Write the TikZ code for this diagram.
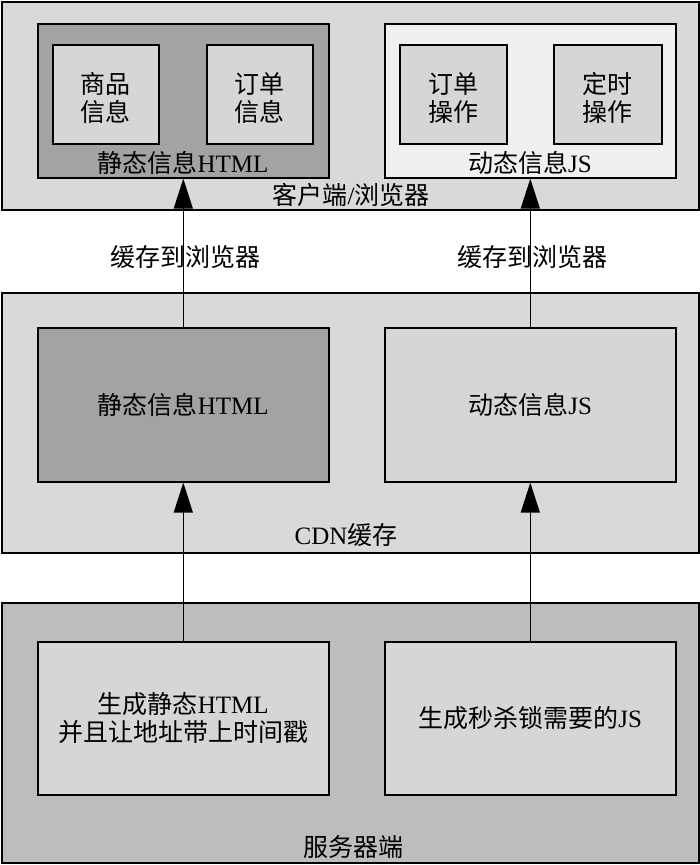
\documentclass[tikz,border=0pt]{standalone}
\usepackage{fontspec}
\setmainfont{Liberation Serif}
\newfontfamily\cjk{Noto Sans CJK SC}
\usetikzlibrary{arrows.meta}
\definecolor{outerL}{HTML}{D9D9D9}
\definecolor{outerD}{HTML}{BDBDBD}
\definecolor{darkbox}{HTML}{A3A3A3}
\definecolor{lightbox}{HTML}{F0F0F0}
\definecolor{midbox}{HTML}{D6D6D6}
\begin{document}
\begin{tikzpicture}[x=1pt,y=-1pt,
  box/.style={draw=black, line width=1.6pt, inner sep=0pt, anchor=north west, align=center,
    font=\fontsize{25}{28}\selectfont},
  lbl/.style={inner sep=0pt, align=center, font=\fontsize{25}{28}\selectfont},
  conn/.style={line width=1.3pt, -{Triangle[length=30pt,width=19pt]}}
]
\useasboundingbox[fill=white] (0,0) rectangle (700,865);
% client layer
\node[box, fill=outerL, minimum width=697pt, minimum height=208pt] (client) at (1,1) {};
\node[box, fill=darkbox, minimum width=291pt, minimum height=154pt] (cstat) at (37,23) {};
\node[box, fill=lightbox, minimum width=291pt, minimum height=154pt] (cdyn) at (384,23) {};
\node[box, fill=midbox, minimum width=106pt, minimum height=99pt] (goods) at (52,44) {};
\node[box, fill=midbox, minimum width=106pt, minimum height=99pt] (order) at (206,44) {};
\node[box, fill=midbox, minimum width=107pt, minimum height=99pt] (orderop) at (399,44) {};
\node[box, fill=midbox, minimum width=108pt, minimum height=99pt] (timer) at (553,44) {};
\node[lbl] (goodslbl) at (105,98) {{\cjk 商品}\\{\cjk 信息}};
\node[lbl] (orderlbl) at (259,98) {{\cjk 订单}\\{\cjk 信息}};
\node[lbl] (orderoplbl) at (453,98) {{\cjk 订单}\\{\cjk 操作}};
\node[lbl] (timerlbl) at (607,98) {{\cjk 定时}\\{\cjk 操作}};
\node[lbl] (cstatlbl) at (183,163) {{\cjk 静态信息}HTML};
\node[lbl] (cdynlbl) at (530,163) {{\cjk 动态信息}JS};
\node[lbl] (clientlbl) at (351,195) {{\cjk 客户端}/{\cjk 浏览器}};
% CDN layer
\node[box, fill=outerL, minimum width=697pt, minimum height=260pt] (cdn) at (1,292) {};
\node[box, fill=darkbox, minimum width=291pt, minimum height=154pt] (nstat) at (37,327) {{\cjk 静态信息}HTML};
\node[box, fill=midbox, minimum width=291pt, minimum height=154pt] (ndyn) at (384,327) {{\cjk 动态信息}JS};
\node[lbl] (cdnlbl) at (346,535) {CDN{\cjk 缓存}};
% server layer
\node[box, fill=outerD, minimum width=697pt, minimum height=260pt] (server) at (1,602) {};
\node[box, fill=midbox, minimum width=291pt, minimum height=153pt] (sstat) at (37,641) {{\cjk 生成静态}HTML\\{\cjk 并且让地址带上时间戳}};
\node[box, fill=midbox, minimum width=291pt, minimum height=153pt] (sdyn) at (384,641) {{\cjk 生成秒杀锁需要的}JS};
\node[lbl] (serverlbl) at (353,847) {{\cjk 服务器端}};
% connectors
\draw[conn] (sstat.north) -- (nstat.south);
\draw[conn] (sdyn.north) -- (ndyn.south);
\draw[conn] (nstat.north) -- (cstat.south);
\draw[conn] (ndyn.north) -- (cdyn.south);
\node[lbl] (cache1) at (185,257) {{\cjk 缓存到浏览器}};
\node[lbl] (cache2) at (532,257) {{\cjk 缓存到浏览器}};
\end{tikzpicture}
\end{document}
